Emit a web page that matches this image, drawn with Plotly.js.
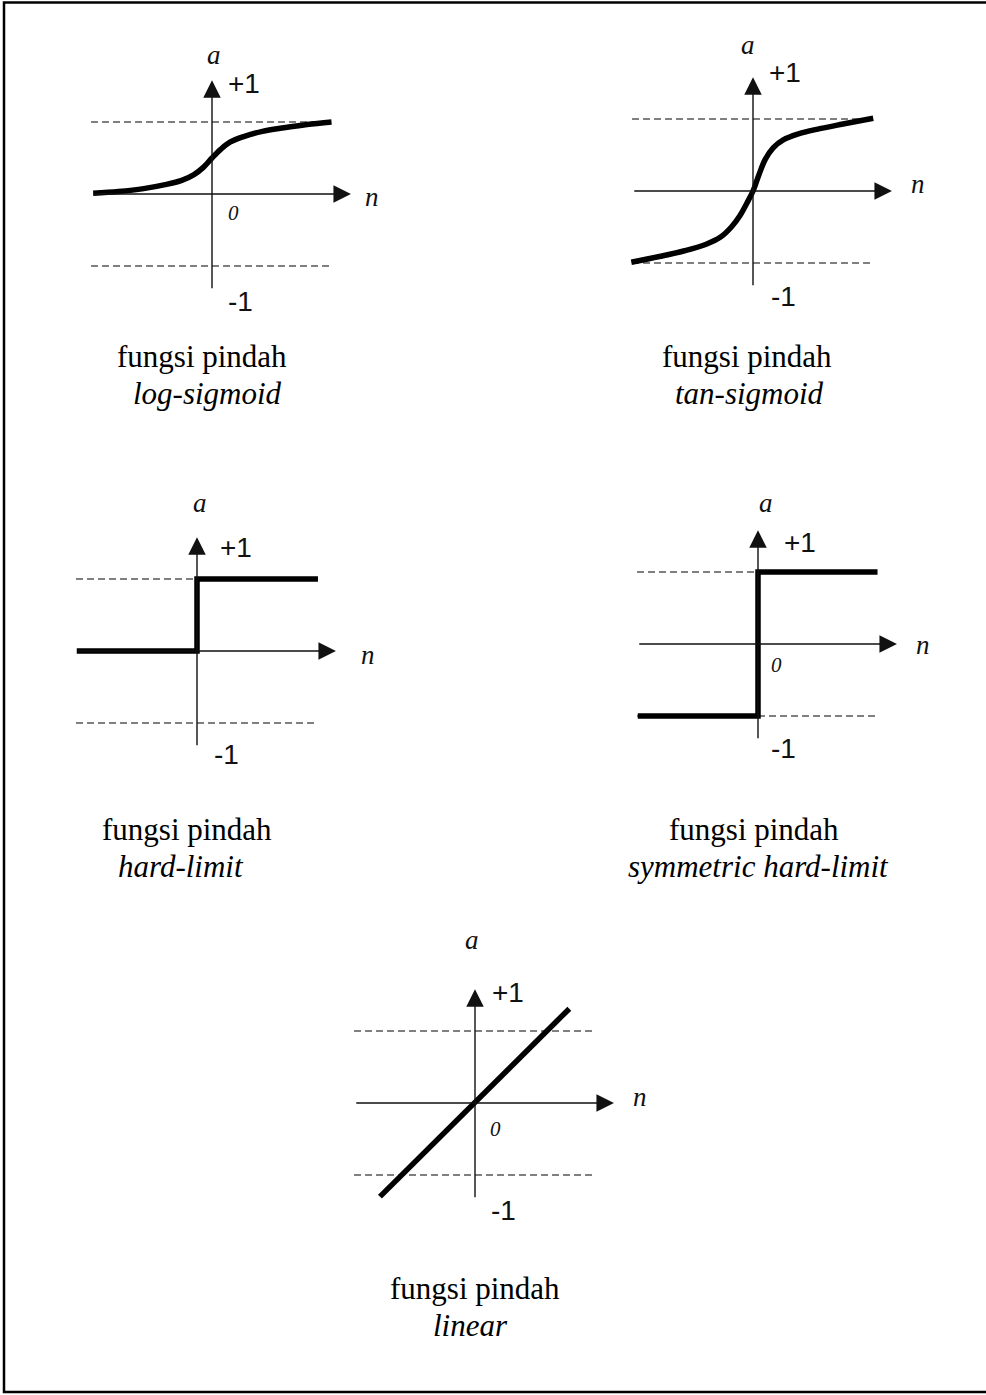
<!DOCTYPE html>
<html><head><meta charset="utf-8">
<script src="https://cdn.plot.ly/plotly-3.0.1.min.js"></script>
<style>html,body{margin:0;padding:0;background:#fff;}#chart{width:986px;height:1395px;}</style>
</head><body><div id="chart"></div>
<script>
// ---- data (n, a in units where guide lines are at a = ±1) ----
const logSigN = [-1.65, -1.30, -0.95, -0.65, -0.42, -0.25, -0.12, 0.00, 0.12, 0.25, 0.45, 0.70, 1.00, 1.32, 1.66];
const logSigA = [0.01, 0.035, 0.075, 0.13, 0.19, 0.27, 0.37, 0.50, 0.62, 0.72, 0.80, 0.87, 0.92, 0.965, 1.00];
const tanSigN = [-1.69, -1.30, -0.95, -0.65, -0.45, -0.30, -0.18, -0.08, 0.00, 0.08, 0.17, 0.28, 0.42, 0.62, 0.90, 1.25, 1.67];
const tanSigA = [-0.99, -0.91, -0.83, -0.74, -0.64, -0.50, -0.34, -0.16, 0.00, 0.22, 0.44, 0.60, 0.71, 0.79, 0.86, 0.93, 1.01];
const hardLimN = [-1.67, 0, 0, 1.68];
const hardLimA = [0, 0, 1, 1];
const symHardN = [-1.67, 0, 0, 1.66];
const symHardA = [-1, -1, 1, 1];
const linearN = [-1.32, 1.31];
const linearA = [-1.30, 1.31];
const guideLevels = [1, -1];
const guideSpanN = [-1.68, 1.68];
const axisSpanN = [-1.67, 2.0];
const axisSpanA = [-1.33, 1.65];
const captionTop = 'fungsi pindah';
const captionNames = ['log-sigmoid', 'tan-sigmoid', 'hard-limit', 'symmetric hard-limit', 'linear'];
const labelPlus = '+1', labelMinus = '-1', labelZero = '0', labelA = 'a', labelN = 'n';

// ---- layout ----
const W = 986, H = 1395, U = 72;
const XR = [-2.5, 3.0], YR = [-2.0, 2.6];
const panels = [
  {ox:212, oy:194, n:logSigN, a:logSigA, shape:'spline', zero:[21,19],
   lab:{a:[2,-139], p:[31.5,-110.5], m:[28,108], n:[160,3]}, cap:[[202,357],[207.5,393]]},
  {ox:753, oy:191, n:tanSigN, a:tanSigA, shape:'spline', zero:null,
   lab:{a:[-5,-146], p:[32,-118], m:[30,106], n:[165,-7]}, cap:[[747,357],[749.5,393]]},
  {ox:197, oy:651, n:hardLimN, a:hardLimA, shape:'linear', zero:null,
   lab:{a:[3,-148], p:[39,-103], m:[29,104], n:[171,4]}, cap:[[187,829],[181,866]]},
  {ox:758, oy:644, n:symHardN, a:symHardA, shape:'linear', zero:[18,21],
   lab:{a:[8,-141], p:[42,-102], m:[25,104], n:[165,1]}, cap:[[754,830],[758,867]]},
  {ox:475, oy:1103, n:linearN, a:linearA, shape:'linear', zero:[20,26],
   lab:{a:[-3,-163], p:[33,-111], m:[28,107], n:[165,-6]}, cap:[[474.5,1288],[470.5,1325]]}
];

const layout = {
  width: W, height: H, margin:{l:0,r:0,t:0,b:0},
  paper_bgcolor:'#fff', plot_bgcolor:'rgba(0,0,0,0)', showlegend:false,
  shapes: [], annotations: []
};
const traces = [];
const sansF = {family:'Liberation Sans, Arial, sans-serif', size:28, color:'#111'};
const varF = {family:'Liberation Serif, Times New Roman, serif', size:27, color:'#111', style:'italic'};
const zeroF = {family:'Liberation Serif, Times New Roman, serif', size:21, color:'#111', style:'italic'};
const capF = {family:'Liberation Serif, Times New Roman, serif', size:31, color:'#000'};

layout.shapes.push({type:'rect', xref:'paper', yref:'paper', x0:4/W, x1:1.02, y0:1-1392/H, y1:1-2.5/H,
  line:{color:'#000', width:2.5}, fillcolor:'rgba(0,0,0,0)'});

panels.forEach((p, i) => {
  const k = i === 0 ? '' : String(i + 1);
  const xa = 'x' + k, ya = 'y' + k;
  layout['xaxis' + k] = {domain:[(p.ox + XR[0]*U)/W, (p.ox + XR[1]*U)/W], range:XR, visible:false,
    fixedrange:true, anchor:ya};
  layout['yaxis' + k] = {domain:[(H - (p.oy - YR[0]*U))/H, (H - (p.oy - YR[1]*U))/H], range:YR, visible:false,
    fixedrange:true, anchor:xa};
  guideLevels.forEach(lv => layout.shapes.push({type:'line', xref:xa, yref:ya, layer:'below',
    x0:guideSpanN[0], x1:guideSpanN[1], y0:lv, y1:lv, line:{color:'#555', width:1.3, dash:'7px,4px'}}));
  // axes with arrows
  layout.annotations.push({xref:xa, yref:ya, axref:xa, ayref:ya, x:axisSpanN[1]-0.07, y:0,
    ax:axisSpanN[0], ay:0, text:'', showarrow:true, arrowhead:2, arrowsize:2.5, arrowwidth:1.4, arrowcolor:'#111'});
  layout.annotations.push({xref:xa, yref:ya, axref:xa, ayref:ya, x:0, y:axisSpanA[1]-0.07,
    ax:0, ay:axisSpanA[0], text:'', showarrow:true, arrowhead:2, arrowsize:2.5, arrowwidth:1.4, arrowcolor:'#111'});
  const lab = (off, txt, f) => layout.annotations.push({xref:xa, yref:ya, x:off[0]/U, y:-off[1]/U,
    text:txt, showarrow:false, xanchor:'center', yanchor:'middle', font:f});
  lab(p.lab.a, labelA, varF);
  lab(p.lab.n, labelN, varF);
  lab(p.lab.p, labelPlus, sansF);
  lab(p.lab.m, labelMinus, sansF);
  if (p.zero) lab(p.zero, labelZero, zeroF);
  layout.annotations.push({xref:'paper', yref:'paper', x:p.cap[0][0]/W, y:1-p.cap[0][1]/H, text:captionTop,
    showarrow:false, xanchor:'center', yanchor:'middle', font:capF});
  layout.annotations.push({xref:'paper', yref:'paper', x:p.cap[1][0]/W, y:1-p.cap[1][1]/H, text:captionNames[i],
    showarrow:false, xanchor:'center', yanchor:'middle', font:Object.assign({}, capF, {style:'italic'})});
  traces.push({type:'scatter', mode:'lines', x:p.n, y:p.a, xaxis:xa, yaxis:ya, hoverinfo:'skip',
    line:{color:'#000', width:5.5, shape:p.shape, smoothing:1}, cliponaxis:false});
});

Plotly.newPlot('chart', traces, layout, {staticPlot:true, displayModeBar:false});
</script></body></html>
